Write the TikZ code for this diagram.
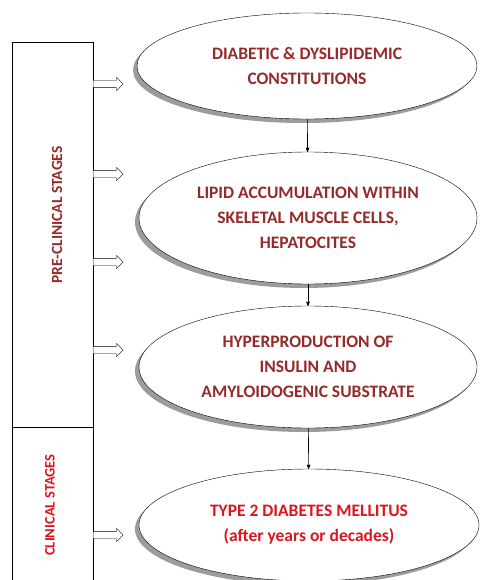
\documentclass[tikz,border=0pt]{standalone}
\usepackage{fontspec}
\setmainfont{Carlito}
\usepackage{tikz}
\usetikzlibrary{arrows,positioning,shapes.geometric,shapes.arrows,shadows}
\definecolor{darkred}{RGB}{150,42,42}
\definecolor{brightred}{RGB}{218,22,30}
\tikzset{
    stage/.style={ellipse, draw, thin, fill=white, align=center, text=darkred,
      font=\bfseries\fontsize{17.5}{25}\selectfont,
      drop shadow={shadow xshift=-4pt, shadow yshift=-4pt, fill=black!55, opacity=.7}},
    push/.style={single arrow, draw, thin, fill=white, inner sep=0pt, minimum height=30pt,
      minimum width=13pt, text height=7pt, single arrow head extend=3pt, anchor=tail},
    post/.style={->, semithick, >=stealth', shorten >=0pt},
  }
\begin{document}
\begin{tikzpicture}[x=1pt, y=-1pt]
  \useasboundingbox[fill=white] (0,0) rectangle (480,580);
  % stages column
  \draw[thin] (12,600) -- (12,42) -- (93,42) -- (93,600);
  \draw[thin] (12,427) -- (93,427);
  \node (pre) [rotate=90, text=darkred, font=\bfseries\fontsize{15.5}{17}\selectfont] at (57,215) {PRE-CLINICAL STAGES};
  \node (clin) [rotate=90, text=brightred, font=\bfseries\fontsize{14.5}{16}\selectfont] at (50,505) {CLINICAL STAGES};
  % ellipses
  \node (dm) [stage, minimum width=340pt, minimum height=106pt] at (307,66)
    {DIABETIC \& DYSLIPIDEMIC\\CONSTITUTIONS};
  \node (lipid) [stage, minimum width=338pt, minimum height=132pt] at (308,218)
    {LIPID ACCUMULATION WITHIN\\SKELETAL MUSCLE CELLS,\\HEPATOCITES};
  \node (hyper) [stage, minimum width=338pt, minimum height=122pt] at (308,367)
    {HYPERPRODUCTION OF\\INSULIN AND\\AMYLOIDOGENIC SUBSTRATE};
  \node (t2dm) [stage, text=brightred, minimum width=340pt, minimum height=112pt] at (309,525)
    {TYPE 2 DIABETES MELLITUS\\(after years or decades)};
  \draw[post] (dm) -- (lipid);
  \draw[post] (lipid) -- (hyper);
  \draw[post] (hyper) -- (t2dm);
  % side arrows
  \foreach \y/\n in {84/a, 174/b, 262/c, 350/d, 535/e}
    \node (push-\n) [push] at (93,\y) {};
\end{tikzpicture}
\end{document}
